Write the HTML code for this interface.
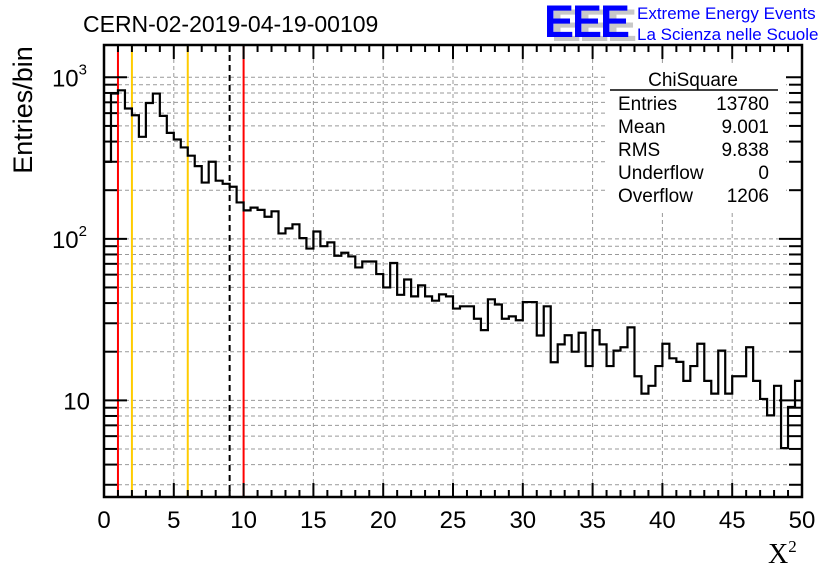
<!DOCTYPE html>
<html><head><meta charset="utf-8"><style>
html,body{margin:0;padding:0;background:#fff;}
svg{display:block;font-family:"Liberation Sans",sans-serif;}
</style></head><body>
<svg id="chart" width="836" height="572" viewBox="0 0 836 572">
<rect x="0" y="0" width="836" height="572" fill="#fff"/>
<g id="grid"></g>
<g id="vlines"></g>
<g id="hist"></g>
<g id="axes"></g>
<text x="83" y="32" font-size="23" fill="#000">CERN-02-2019-04-19-00109</text>
<text transform="translate(32,110) rotate(-90)" text-anchor="middle" font-size="27" fill="#000">Entries/bin</text>
<text x="768" y="563" font-family="Liberation Serif,serif" font-size="28" fill="#000">X<tspan font-size="17" dy="-11">2</tspan></text>
<g>
<text x="551" y="41" font-size="45" font-weight="bold" fill="#c8c8c8" letter-spacing="-2">EEE</text>
<text x="544" y="37" font-size="45" font-weight="bold" fill="#0000ff" letter-spacing="-2">EEE</text>
<text x="637" y="19" font-size="17" fill="#0000ff">Extreme Energy Events</text>
<text x="637" y="40" font-size="17" fill="#0000ff">La Scienza nelle Scuole</text>
</g>
<g font-size="19" fill="#000">
<rect x="606" y="66" width="180" height="144" fill="#fff"/>
<text x="693" y="86" text-anchor="middle">ChiSquare</text>
<line x1="610" y1="90" x2="778" y2="90" stroke="#000" stroke-width="1.5"/>
<text x="618" y="110">Entries</text><text x="769" y="110" text-anchor="end">13780</text>
<text x="618" y="133">Mean</text><text x="769" y="133" text-anchor="end">9.001</text>
<text x="618" y="156">RMS</text><text x="769" y="156" text-anchor="end">9.838</text>
<text x="618" y="179">Underflow</text><text x="769" y="179" text-anchor="end">0</text>
<text x="618" y="202">Overflow</text><text x="769" y="202" text-anchor="end">1206</text>
</g>
</svg>
<script>
const binCounts = [300,793,831,641,582,428,693,793,577,453,412,368,327,282,223,300,229,219,210,168,
150,156,151,137,148,108,116,123,101,87,111,90,95,78.5,82,77.8,66.5,72.4,72.4,60.5,
50,70.8,45,56,44,51.5,44,41.4,45.3,44,37,38.2,38.2,32,27.2,42.2,39.2,32,33.1,31.3,
40.6,40.6,25.2,38.2,17.2,22.2,25.3,20,26.2,16.3,27.2,22.2,16.3,20.3,21.3,28.3,14.1,11.0,12.3,16.3,
22.4,18.2,17.3,13.2,16.3,22.4,13.2,11.0,20.3,11.0,14.1,14.1,21.3,13.2,10.2,8.07,12.3,5.06,9.1,13.2];
const xRange = [0,50];
const yRange = [2.52,1585];
const xTickLabels = ["0","5","10","15","20","25","30","35","40","45","50"];
const xTickValues = [0,5,10,15,20,25,30,35,40,45,50];
const yMajorValues = [10,100,1000];
const refRed = [1,10];
const refOrange = [2,6];
const refMean = [9];

const NS="http://www.w3.org/2000/svg";
const L=104,R=802,T=45,B=497;
const X=v=>L+(v-xRange[0])/(xRange[1]-xRange[0])*(R-L);
const lmin=Math.log10(yRange[0]),lmax=Math.log10(yRange[1]);
const Y=v=>B-(Math.log10(v)-lmin)/(lmax-lmin)*(B-T);
function mk(tag,attrs,parent){const e=document.createElementNS(NS,tag);for(const k in attrs)e.setAttribute(k,attrs[k]);parent.appendChild(e);return e;}
const grid=document.getElementById('grid'),axes=document.getElementById('axes'),hist=document.getElementById('hist'),vl=document.getElementById('vlines');

for(let d=1;d<=1000;d*=10){for(let m=1;m<10;m++){const v=d*m;if(v<yRange[0]||v>yRange[1])continue;const y=Y(v);
 const g=mk('line',{x1:L,x2:R,y1:y,y2:y,stroke:'#999','stroke-dasharray':'4,3','stroke-width':1},grid);
 
 
 const len=m===1?23:13;
 mk('line',{x1:L,x2:L+len,y1:y,y2:y,stroke:'#000','stroke-width':2},axes);
 mk('line',{x1:R,x2:R-len,y1:y,y2:y,stroke:'#000','stroke-width':2},axes);
}}
for(let v=0;v<=50;v++){const x=X(v);const major=v%5===0;
 if(major&&v>0&&v<50){const g=mk('line',{x1:x,x2:x,y1:T,y2:B,stroke:'#999','stroke-dasharray':'4,3','stroke-width':1},grid);
  
  }
 const len=major?14:7;
 mk('line',{x1:x,x2:x,y1:B,y2:B-len,stroke:'#000','stroke-width':2},axes);
 mk('line',{x1:x,x2:x,y1:T,y2:T+len,stroke:'#000','stroke-width':2},axes);
}
xTickValues.forEach((v,i)=>{const t=mk('text',{x:X(v),y:528,'text-anchor':'middle','font-size':24,fill:'#000'},axes);t.textContent=xTickLabels[i];
 
 });
yMajorValues.forEach(v=>{const y=Y(v);const t=mk('text',{x:v===10?90:87,y:y+9,'text-anchor':'end','font-size':24,fill:'#000'},axes);
 if(v===10)t.textContent='10';else{t.textContent='10';const s=mk('tspan',{'font-size':15,dy:-12},t);s.textContent=v===100?'2':'3';}
 
 });
const fr=mk('rect',{x:L,y:T,width:R-L,height:B-T,fill:'none',stroke:'#000','stroke-width':2.5},axes);



function vline(v,color,dash,name){const l=mk('line',{x1:X(v),x2:X(v),y1:T,y2:B,stroke:color,'stroke-width':2},vl);if(dash)l.setAttribute('stroke-dasharray',dash);
 
 }
refRed.forEach(v=>vline(v,'#ff0000',null,'red-cut-line'));
refOrange.forEach(v=>vline(v,'#ffcc00',null,'orange-cut-line'));
refMean.forEach(v=>vline(v,'#000',"6,4",'mean-line'));

const bw=(xRange[1]-xRange[0])/binCounts.length;
let d='M'+X(0)+' '+Y(binCounts[0]);
binCounts.forEach((c,i)=>{const y=Y(c);d+=' L'+X(i*bw)+' '+y+' L'+X((i+1)*bw)+' '+y;});
const p=mk('path',{d:d,fill:'none',stroke:'#000','stroke-width':2.2},hist);


</script>
</body></html>
